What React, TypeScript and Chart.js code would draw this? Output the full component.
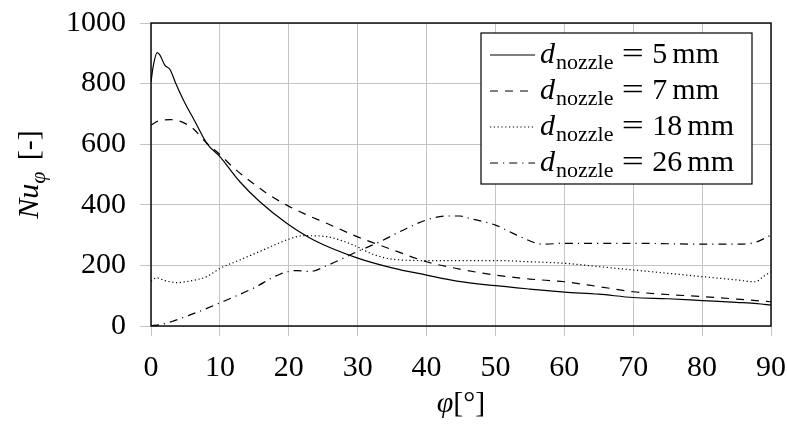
import React, { useEffect, useRef } from "react";
import { Chart, registerables } from "chart.js";

Chart.register(...registerables);

// ---- data ----
const xTicksMax = 90;
const yTicksMax = 1000;

const x5 = [0, 0.35, 0.9, 1.3, 2.0, 2.8, 3.6, 4.7, 6.4, 8.1, 10, 12.9, 15.8, 19.7, 23.6, 29.9, 35, 40, 44.4, 50, 55, 60, 65, 70, 75, 80, 85, 88, 90];
const y5 = [806, 861, 902, 894, 861, 845, 800, 746, 674, 603, 559, 476, 410, 339, 284, 225, 192, 168, 148, 133, 122, 112, 105, 94, 90, 84, 78, 74, 69];

const x7 = [0, 1, 2.8, 3.9, 5, 6.1, 8.1, 10, 12, 14.8, 17, 19.7, 22.5, 25.5, 29.9, 35, 40, 44.8, 50, 55, 60, 65, 70, 75, 80, 85, 90];
const y7 = [663, 676, 681, 678, 668, 652, 603, 566, 522, 471, 435, 399, 368, 339, 295, 252, 212, 188, 168, 155, 146, 130, 113, 104, 97, 89, 80];

const x18 = [0, 0.8, 2, 3.7, 6, 8.1, 10, 12.9, 16.8, 19.7, 22.1, 25.5, 27.5, 29.4, 32.3, 35.2, 40, 45, 50, 55, 60, 65, 70, 75, 80, 85, 87.7, 89, 90];
const y18 = [148, 159, 150, 143, 150, 163, 190, 218, 256, 284, 298, 295, 283, 267, 236, 220, 216, 216, 216, 212, 207, 196, 185, 174, 163, 152, 146, 165, 179];

const x26 = [0, 1.3, 3.2, 5.5, 8.1, 11, 14.8, 18.7, 21.1, 23.1, 25.5, 29.9, 33.2, 37.1, 40, 42.9, 44.8, 46.3, 50, 53.1, 56.9, 60, 70, 80, 85.5, 87.7, 90];
const y26 = [1, 4, 16, 35, 58, 86, 124, 171, 183, 180, 199, 245, 278, 322, 350, 363, 363, 355, 333, 300, 270, 273, 273, 270, 270, 276, 300];

const legendValues = ["5", "7", "18", "26"];

const FONT = "'Liberation Serif', 'Times New Roman', serif";
const DASHES: number[][] = [[], [8, 7], [1.2, 2.6], [8, 5, 1.2, 5]];

function pts(xs: number[], ys: number[]) {
  return xs.map((x, i) => ({ x, y: ys[i] }));
}

function drawMathLabel(ctx: CanvasRenderingContext2D, x: number, base: number, value: string, S: number) {
  let cx = x;
  ctx.textAlign = "left";
  ctx.textBaseline = "alphabetic";
  ctx.font = `italic ${S}px ${FONT}`;
  ctx.fillText("d", cx, base);
  cx += ctx.measureText("d").width + 1;
  const s2 = Math.round(S * 0.74);
  ctx.font = `${s2}px ${FONT}`;
  ctx.fillText("nozzle", cx, base + S * 0.2);
  cx += ctx.measureText("nozzle").width + S * 0.28;
  ctx.font = `${S}px ${FONT}`;
  // wider "=" like Computer Modern
  ctx.save();
  ctx.translate(cx, base);
  ctx.scale(1.3, 1);
  ctx.fillText("=", 0, 0);
  ctx.restore();
  cx += ctx.measureText("=").width * 1.3 + S * 0.28;
  ctx.fillText(value, cx, base);
  cx += ctx.measureText(value).width + S * 0.17;
  ctx.fillText("mm", cx, base);
}

const decorPlugin = {
  id: "decor",
  afterDraw(chart: any) {
    const ctx: CanvasRenderingContext2D = chart.ctx;
    const a = chart.chartArea;
    ctx.save();
    // frame
    ctx.strokeStyle = "#000";
    ctx.lineWidth = 1.4;
    ctx.setLineDash([]);
    ctx.strokeRect(a.left, a.top, a.right - a.left, a.bottom - a.top);

    // legend
    const lx = a.left + 330, ly = a.top + 10, lw = 271, lh = 151;
    ctx.fillStyle = "#fff";
    ctx.fillRect(lx, ly, lw, lh);
    ctx.lineWidth = 1.2;
    ctx.strokeRect(lx, ly, lw, lh);
    const S = 30;
    for (let i = 0; i < 4; i++) {
      const rowY = ly + 22 + i * 36;
      ctx.beginPath();
      ctx.setLineDash(DASHES[i]);
      ctx.lineWidth = 1.2;
      ctx.strokeStyle = "#000";
      ctx.moveTo(lx + 9, rowY);
      ctx.lineTo(lx + 54, rowY);
      ctx.stroke();
      ctx.setLineDash([]);
      ctx.fillStyle = "#000";
      drawMathLabel(ctx, lx + 59, rowY + 8, legendValues[i], S);
    }

    // x title
    const T = 30;
    ctx.fillStyle = "#000";
    ctx.textBaseline = "alphabetic";
    ctx.textAlign = "left";
    ctx.font = `italic ${T}px ${FONT}`;
    const wPhi = ctx.measureText("φ").width;
    ctx.font = `${T}px ${FONT}`;
    const wRest = ctx.measureText("[°]").width;
    const cx = (a.left + a.right) / 2;
    const sx = cx - (wPhi + wRest) / 2;
    ctx.font = `italic ${T}px ${FONT}`;
    ctx.fillText("φ", sx, 412);
    ctx.font = `${T}px ${FONT}`;
    ctx.fillText("[°]", sx + wPhi, 412);

    // y title (rotated)
    ctx.save();
    ctx.translate(38, (a.top + a.bottom) / 2);
    ctx.rotate(-Math.PI / 2);
    ctx.font = `italic ${T}px ${FONT}`;
    const wNu = ctx.measureText("Nu").width;
    const ss = Math.round(T * 0.72);
    ctx.font = `italic ${ss}px ${FONT}`;
    const wSub = ctx.measureText("φ").width;
    ctx.font = `${T}px ${FONT}`;
    const wBr = ctx.measureText(" [-]").width;
    const tot = wNu + wSub + 4 + wBr;
    let tx = -tot / 2;
    ctx.font = `italic ${T}px ${FONT}`;
    ctx.fillText("Nu", tx, 0);
    tx += wNu;
    ctx.font = `italic ${ss}px ${FONT}`;
    ctx.fillText("φ", tx, T * 0.22);
    tx += wSub + 4;
    ctx.font = `${T}px ${FONT}`;
    ctx.fillText(" [-]", tx, 0);
    ctx.restore();

    ctx.restore();
  },
};

export default function App() {
  const ref = useRef<HTMLCanvasElement | null>(null);
  useEffect(() => {
    document.body.style.margin = "0";
    const canvas = ref.current!;
    const mk = (label: string, xs: number[], ys: number[], i: number) => ({
      label,
      data: pts(xs, ys),
      borderColor: "#000",
      backgroundColor: "#000",
      borderWidth: 1.2,
      borderDash: DASHES[i],
      pointRadius: 0,
      cubicInterpolationMode: "monotone" as const,
      fill: false,
    });
    const chart = new Chart(canvas, {
      type: "line",
      data: {
        datasets: [
          mk("d_nozzle = 5 mm", x5, y5, 0),
          mk("d_nozzle = 7 mm", x7, y7, 1),
          mk("d_nozzle = 18 mm", x18, y18, 2),
          mk("d_nozzle = 26 mm", x26, y26, 3),
        ],
      },
      options: {
        responsive: false,
        animation: false,
        devicePixelRatio: 1,
        layout: { padding: { top: 23, right: 16, left: 0, bottom: 0 } },
        plugins: { legend: { display: false }, tooltip: { enabled: false } },
        scales: {
          x: {
            type: "linear",
            min: 0,
            max: xTicksMax,
            ticks: { stepSize: 10, color: "#000", font: { family: FONT, size: 30 }, padding: 14, maxRotation: 0, callback: (v: any) => String(v) },
            grid: { color: "#c4c4c4", lineWidth: 1, tickLength: 10, drawTicks: true },
            border: { display: false },
            afterFit: (s: any) => { s.height = 98; s.paddingLeft = 0; s.paddingRight = 0; },
          },
          y: {
            type: "linear",
            min: 0,
            max: yTicksMax,
            ticks: { stepSize: 200, color: "#000", font: { family: FONT, size: 30 }, padding: 14, callback: (v: any) => String(v) },
            grid: { color: "#c4c4c4", lineWidth: 1, tickLength: 11, drawTicks: true },
            border: { display: false },
            afterFit: (s: any) => { s.width = 151; s.paddingTop = 0; s.paddingBottom = 0; },
          },
        },
      },
      plugins: [decorPlugin],
    });
    return () => chart.destroy();
  }, []);
  return (
    <div style={{ position: "fixed", left: 0, top: 0, width: 787, height: 424, background: "#fff" }}>
      <canvas ref={ref} width={787} height={424} style={{ width: 787, height: 424, display: "block" }} />
    </div>
  );
}
